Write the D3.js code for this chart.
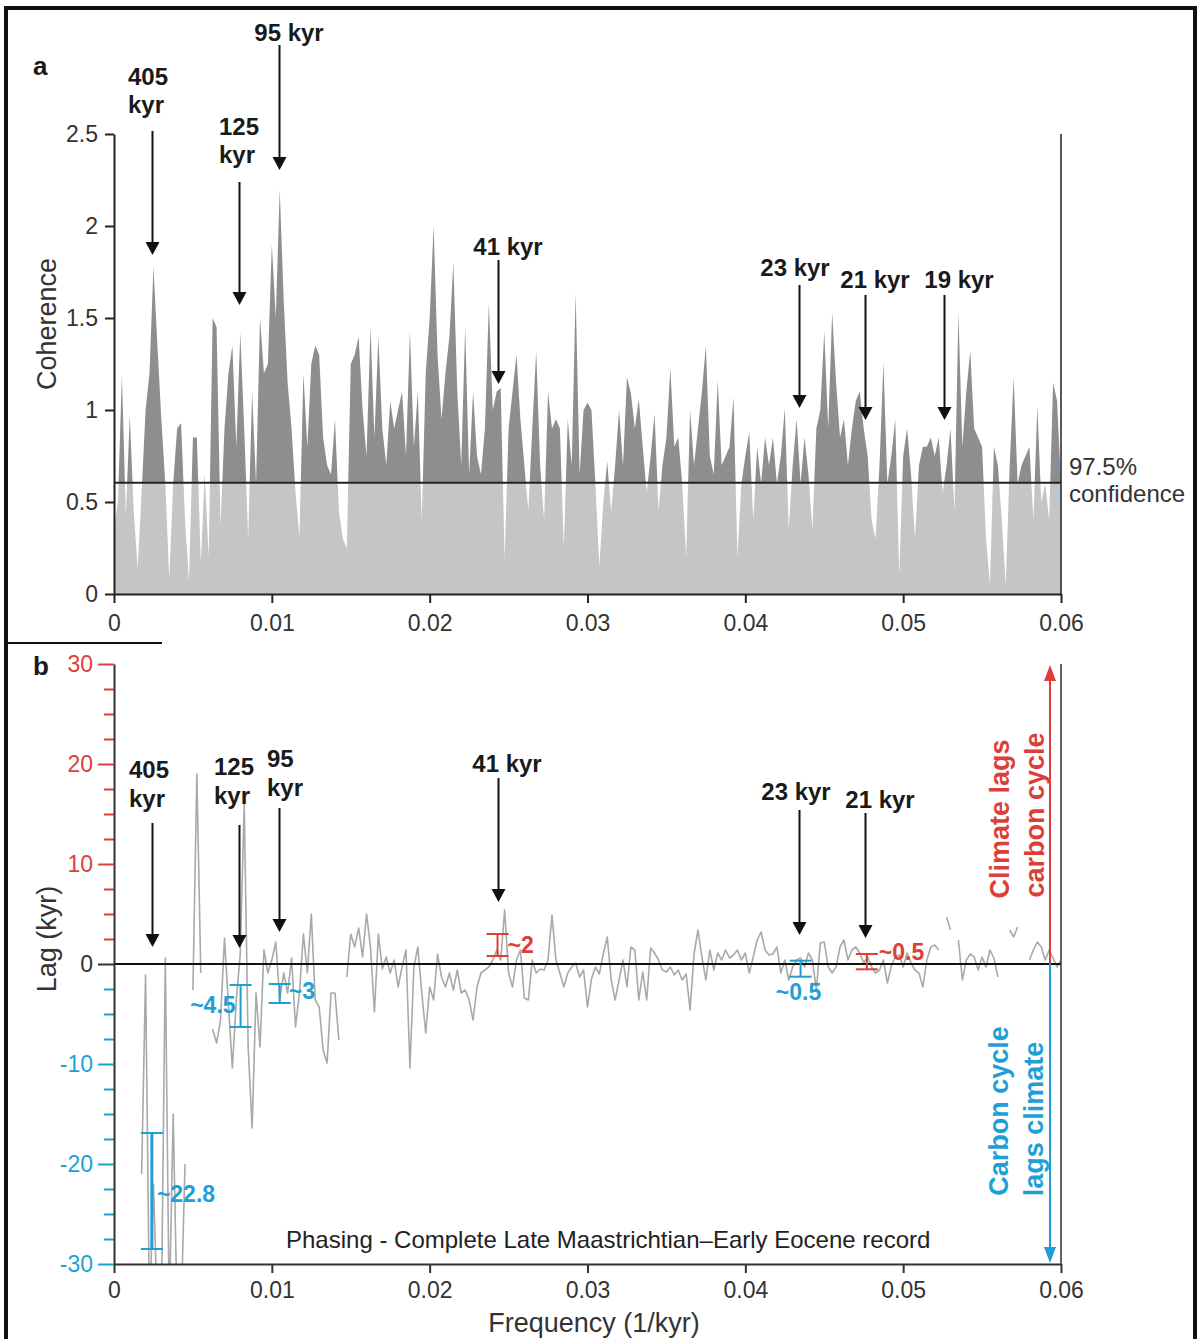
<!DOCTYPE html>
<html>
<head>
<meta charset="utf-8">
<script src="https://cdn.jsdelivr.net/npm/d3@7"></script>
<style>
  body { margin: 0; background: #fff; }
  text { font-family: "Liberation Sans", Arial, sans-serif; }
</style>
</head>
<body>
<svg id="chart" width="1198" height="1339"></svg>
<script>
// frequency grid step (1/kyr), series
var freqStep = 0.00025;

// panel a: coherence
var coherence = [
  0.35,0.5,1.19,0.43,0.97,0.45,0.14,0.55,1.0,1.2,
  1.78,1.35,0.95,0.6,0.08,0.6,0.9,0.93,0.4,0.07,
  0.85,0.85,0.17,0.65,0.2,1.5,1.45,0.37,0.9,1.2,
  1.35,0.8,1.42,0.9,0.3,1.1,0.6,1.5,1.2,1.25,
  1.9,1.5,2.2,1.6,1.15,0.9,0.55,0.31,1.2,0.8,
  1.25,1.35,1.3,0.85,0.7,0.65,0.95,0.45,0.3,0.25,
  1.25,1.3,1.4,1.0,0.75,1.45,0.85,1.4,0.9,0.7,
  1.05,0.9,1.0,1.1,0.75,1.43,0.8,1.1,0.4,1.2,
  1.5,2.0,1.3,0.95,1.2,1.4,1.8,1.1,0.7,1.45,
  0.65,1.1,0.75,0.65,0.9,1.58,1.0,1.1,1.12,0.19,
  0.9,1.1,1.3,0.95,0.7,0.45,0.9,1.32,0.7,0.4,
  1.1,0.9,0.95,0.9,0.25,0.95,0.7,1.64,0.65,1.0,
  1.04,1.0,0.6,0.15,0.5,0.72,0.45,0.7,1.0,0.7,
  1.18,1.09,0.9,1.06,0.8,0.55,0.75,0.98,0.45,0.7,
  0.85,1.23,0.8,0.85,0.6,0.2,1.0,0.7,0.9,1.1,
  1.35,0.75,0.65,1.16,0.7,0.75,0.8,1.07,0.2,0.6,
  0.75,0.88,0.4,0.8,0.6,0.85,0.7,0.85,0.6,0.75,
  1.01,0.35,0.7,0.95,0.6,0.85,0.65,0.35,0.9,1.0,
  1.43,0.9,1.53,1.15,0.85,0.95,0.7,0.9,1.05,1.1,
  0.9,0.75,0.4,0.3,0.7,1.26,0.6,0.75,0.95,0.1,
  0.75,0.9,0.65,0.3,0.7,0.8,0.8,0.85,0.75,0.85,
  0.55,0.7,0.9,0.45,1.53,0.8,1.1,1.32,0.9,0.85,
  0.8,0.3,0.05,0.8,0.7,0.4,0.05,0.7,1.18,0.6,
  0.7,0.75,0.8,0.4,1.02,0.5,0.6,0.4,1.15,1.05,0.6
];
var confidence = 0.605;

// panel b: lag (kyr), null = no estimate; values below -30 run off the axis
var lag = [
  null,null,null,null,null,null,null,-21,-1.1,-35,
  -22,-35,-35,0.6,-35,-15,-35,-35,-20,null,
  -2.6,19,-0.9,null,null,-6.5,-7.9,-5.6,2.6,-4,
  -10.4,-3.6,1.0,16,-8.3,-16.4,-2.9,-8.3,1.4,-0.9,
  0.4,2.2,-3.6,-0.9,-2.9,0.6,-6.3,-2.9,3,-0.9,
  5,-3.6,-4.3,-8.6,-9.9,-2.9,-2.9,-7.6,null,-1.3,
  3,1.7,3.6,0.7,5,1.7,-4.8,3,-0.5,0.7,
  -0.9,0.4,-2.3,-0.3,1.4,-10.4,-0.3,1.7,-2.9,-6.9,
  -2.3,-3.6,1.0,-1.3,-2.3,-0.9,-2.6,-0.6,-2.9,-2.6,
  -3.6,-5.6,-2.3,-0.9,-0.6,-0.3,0.4,1.4,0.4,5.4,
  -0.9,-2.3,0.4,1.4,-3.4,-3.6,0.4,-0.9,-0.5,-0.6,
  0.4,4.9,0.4,-0.9,-2.3,-0.9,-0.3,0.1,-1.3,-0.6,
  -4.3,-1.5,-0.3,-1.0,1.0,2.7,-1.6,-3.6,-1.6,0.4,
  -2.3,1.7,1.4,-3.6,-0.8,-3.6,1.6,1.1,0.4,-0.6,
  -0.8,-0.3,-1.1,-0.6,-1.6,-1.0,-4.6,1.0,3.4,0.7,
  -1.6,1.4,-0.6,1.1,0.4,1.4,0.6,0.9,1.4,0.4,
  1.1,-0.9,0.7,2.4,3.2,1.4,0.9,1.0,1.7,-0.9,
  0.4,-1.6,-0.3,0.4,0.6,-0.3,1.1,0.4,-2.6,2.1,
  2.2,-0.3,-0.9,-0.3,1.7,2.4,0.4,1.4,1.7,1.1,
  0.1,0.7,-0.3,-0.9,-0.6,0.4,-1.9,-0.2,0.7,0.9,
  -0.3,1.1,0.1,-0.6,-0.9,-2.3,0.4,1.7,1.9,1.4,
  null,4.7,3.4,null,2.4,-1.6,0.4,1.0,0.7,-0.6,
  0.7,-0.3,1.4,0.6,-1.3,null,null,3.4,2.7,3.7,
  null,null,0.4,1.4,2.2,1.7,0.4,1.4,0.6,-0.3,0.4
];

// lag ranges at the orbital bands
var errFreq   = [0.0024, 0.00802, 0.0105, 0.0243, 0.0435, 0.0477];
var errHigh   = [-16.9, -2.1, -2.0, 3.0, 0.33, 1.0];
var errLow    = [-28.5, -6.3, -3.9, 0.8, -1.27, -0.53];
var errLabels = ["~22.8", "~4.5", "~3", "~2", "~0.5", "~0.5"];

var freqTicks = [0, 0.01, 0.02, 0.03, 0.04, 0.05, 0.06];
var cohTicks = [0, 0.5, 1, 1.5, 2, 2.5];
var lagTicks = [-30, -20, -10, 0, 10, 20, 30];
var lagMinorTicks = [-27.5,-25,-22.5,-17.5,-15,-12.5,-7.5,-5,-2.5,2.5,5,7.5,12.5,15,17.5,22.5,25,27.5];

var periodsA = [405, 125, 95, 41, 23, 21, 19];
var periodsB = [405, 125, 95, 41, 23, 21];

var RED = "#dc3f37", BLUE = "#1e9fd6", INK = "#222";

var svg = d3.select("#chart");
var freqs = coherence.map(function(d, i) { return i * freqStep; });

var x = d3.scaleLinear().domain([0, 0.06]).range([114, 1061]);
var ya = d3.scaleLinear().domain([0, 2.5]).range([594, 134]);
var yb = d3.scaleLinear().domain([-30, 30]).range([1264, 664]);

// outer frame and the little divider
svg.append("rect").attr("x", 6).attr("y", 8).attr("width", 1189).attr("height", 1345)
  .attr("fill", "none").attr("stroke", "#111").attr("stroke-width", 4);
svg.append("line").attr("x1", 6).attr("x2", 162).attr("y1", 643).attr("y2", 643)
  .attr("stroke", "#111").attr("stroke-width", 2);

function fmt(d) { return String(d); }

function arrowDown(xp, y1, y2) {
  svg.append("line").attr("x1", xp).attr("x2", xp).attr("y1", y1).attr("y2", y2 - 10)
    .attr("stroke", "#111").attr("stroke-width", 2);
  svg.append("path").attr("d", "M" + (xp - 7) + "," + (y2 - 13) + "L" + (xp + 7) + "," + (y2 - 13) + "L" + xp + "," + y2 + "Z")
    .attr("fill", "#111");
}

function boldText(str, tx, ty, anchor, color, size) {
  return svg.append("text").attr("x", tx).attr("y", ty).attr("text-anchor", anchor)
    .attr("font-size", size || 24).attr("font-weight", "bold").attr("fill", color || "#1a1a1a").text(str);
}

// ---------- panel a ----------
var defs = svg.append("defs");
defs.append("clipPath").attr("id", "above").append("rect")
  .attr("x", x(0)).attr("y", 100).attr("width", x(0.06) - x(0)).attr("height", ya(confidence) - 100);
defs.append("clipPath").attr("id", "below").append("rect")
  .attr("x", x(0)).attr("y", ya(confidence)).attr("width", x(0.06) - x(0)).attr("height", ya(0) - ya(confidence));
defs.append("clipPath").attr("id", "plotb").append("rect")
  .attr("x", x(0)).attr("y", yb(30)).attr("width", x(0.06) - x(0)).attr("height", yb(-30) - yb(30));

var area = d3.area()
  .x(function(d, i) { return x(freqs[i]); })
  .y0(ya(0))
  .y1(function(d) { return ya(d); });

svg.append("path").datum(coherence).attr("d", area).attr("fill", "#8e8e90").attr("clip-path", "url(#above)");
svg.append("path").datum(coherence).attr("d", area).attr("fill", "#c5c5c7").attr("clip-path", "url(#below)");

svg.append("line").attr("x1", x(0)).attr("x2", x(0.06)).attr("y1", ya(confidence)).attr("y2", ya(confidence))
  .attr("stroke", INK).attr("stroke-width", 2);
svg.append("line").attr("x1", x(0.06)).attr("x2", x(0.06)).attr("y1", ya(2.5)).attr("y2", ya(0))
  .attr("stroke", INK).attr("stroke-width", 1.5);

var axA = svg.append("g").attr("transform", "translate(" + x(0) + ",0)")
  .call(d3.axisLeft(ya).tickValues(cohTicks).tickSize(9).tickSizeOuter(0).tickPadding(7).tickFormat(fmt));
var axAx = svg.append("g").attr("transform", "translate(0," + ya(0) + ")")
  .call(d3.axisBottom(x).tickValues(freqTicks).tickSize(9).tickSizeOuter(0).tickPadding(12).tickFormat(fmt));
[axA, axAx].forEach(function(g) {
  g.select(".domain").attr("stroke", INK).attr("stroke-width", 2);
  g.selectAll(".tick line").attr("stroke", INK).attr("stroke-width", 2);
  g.selectAll(".tick text").attr("font-size", 23).attr("fill", "#333")
    .attr("font-family", '"Liberation Sans", Arial, sans-serif');
});

svg.append("text").attr("transform", "translate(56,324) rotate(-90)").attr("text-anchor", "middle")
  .attr("font-size", 27).attr("fill", "#333").text("Coherence");
svg.append("text").attr("x", 1069).attr("y", 475).attr("font-size", 24).attr("fill", "#333").text("97.5%");
svg.append("text").attr("x", 1069).attr("y", 502).attr("font-size", 24).attr("fill", "#333").text("confidence");
boldText("a", 33, 75, "start", "#1a1a1a", 26);

// label layout for panel a, in the order of periodsA
var layoutA = [
  { lines: ["405", "kyr"], tx: 128, anchor: "start", base: 85, tail: 131, tip: 255 },
  { lines: ["125", "kyr"], tx: 219, anchor: "start", base: 135, tail: 182, tip: 305 },
  { lines: ["95 kyr"], tx: 289, anchor: "middle", base: 41, tail: 45, tip: 170 },
  { lines: ["41 kyr"], tx: 508, anchor: "middle", base: 255, tail: 260, tip: 384 },
  { lines: ["23 kyr"], tx: 795, anchor: "middle", base: 276, tail: 285, tip: 408 },
  { lines: ["21 kyr"], tx: 875, anchor: "middle", base: 288, tail: 295, tip: 420 },
  { lines: ["19 kyr"], tx: 959, anchor: "middle", base: 288, tail: 295, tip: 420 }
];
periodsA.forEach(function(p, i) {
  var L = layoutA[i];
  L.lines.forEach(function(s, j) { boldText(s, L.tx, L.base + j * 28, L.anchor); });
  arrowDown(Math.round(x(1 / p)) - 0.5, L.tail, L.tip);
});

// ---------- panel b ----------
var lagLine = d3.line()
  .defined(function(d) { return d !== null; })
  .x(function(d, i) { return x(freqs[i]); })
  .y(function(d) { return yb(d); });

svg.append("path").datum(lag).attr("d", lagLine).attr("fill", "none")
  .attr("stroke", "#a9a9a9").attr("stroke-width", 1.6).attr("stroke-linejoin", "round")
  .attr("clip-path", "url(#plotb)");

svg.append("line").attr("x1", x(0)).attr("x2", x(0.06)).attr("y1", yb(0)).attr("y2", yb(0))
  .attr("stroke", "#111").attr("stroke-width", 2);
svg.append("line").attr("x1", x(0.06)).attr("x2", x(0.06)).attr("y1", yb(30)).attr("y2", yb(-30))
  .attr("stroke", "#333").attr("stroke-width", 1.5);

var gMinor = svg.append("g").attr("transform", "translate(" + x(0) + ",0)")
  .call(d3.axisLeft(yb).tickValues(lagMinorTicks).tickSize(10).tickFormat(""));
gMinor.select(".domain").remove();
gMinor.selectAll(".tick line").attr("stroke", function(d) { return d > 0 ? RED : BLUE; }).attr("stroke-width", 2);

var gMajor = svg.append("g").attr("transform", "translate(" + x(0) + ",0)")
  .call(d3.axisLeft(yb).tickValues(lagTicks).tickSize(16).tickSizeOuter(0).tickPadding(5).tickFormat(fmt));
gMajor.select(".domain").attr("stroke", "#333").attr("stroke-width", 2);
gMajor.selectAll(".tick line").attr("stroke-width", 2)
  .attr("stroke", function(d) { return d > 0 ? RED : d < 0 ? BLUE : "#333"; });
gMajor.selectAll(".tick text").attr("font-size", 23)
  .attr("font-family", '"Liberation Sans", Arial, sans-serif')
  .attr("fill", function(d) { return d > 0 ? RED : d < 0 ? BLUE : "#333"; });

var axBx = svg.append("g").attr("transform", "translate(0," + yb(-30) + ")")
  .call(d3.axisBottom(x).tickValues(freqTicks).tickSize(9).tickSizeOuter(0).tickPadding(9).tickFormat(fmt));
axBx.select(".domain").attr("stroke", "#333").attr("stroke-width", 2);
axBx.selectAll(".tick line").attr("stroke", "#333").attr("stroke-width", 2);
axBx.selectAll(".tick text").attr("font-size", 23).attr("fill", "#333")
  .attr("font-family", '"Liberation Sans", Arial, sans-serif');

svg.append("text").attr("transform", "translate(56,939) rotate(-90)").attr("text-anchor", "middle")
  .attr("font-size", 27).attr("fill", "#333").text("Lag (kyr)");
svg.append("text").attr("x", 594).attr("y", 1332).attr("text-anchor", "middle")
  .attr("font-size", 27).attr("fill", "#333").text("Frequency (1/kyr)");
svg.append("text").attr("x", 286).attr("y", 1248).attr("font-size", 24).attr("fill", "#222")
  .text("Phasing - Complete Late Maastrichtian\u2013Early Eocene record");
boldText("b", 33, 675, "start", "#1a1a1a", 26);

// error bars; label placement is layout only
var labelPlace = ["right", "left", "right", "right", "below", "right"];
var labelDx = [5, -5, 9, 10, 0, 12];
var labelDy = [11, 7, 5, 8, 23, -2];
errFreq.forEach(function(f, i) {
  var col = (errHigh[i] + errLow[i]) / 2 > 0 ? RED : BLUE;
  var xp = x(f), t = yb(errHigh[i]), b = yb(errLow[i]);
  var g = svg.append("g").attr("stroke", col).attr("stroke-width", 2);
  g.append("line").attr("x1", xp).attr("x2", xp).attr("y1", t).attr("y2", b).attr("stroke-width", i === 0 ? 3 : 2);
  g.append("line").attr("x1", xp - 11).attr("x2", xp + 11).attr("y1", t).attr("y2", t);
  g.append("line").attr("x1", xp - 11).attr("x2", xp + 11).attr("y1", b).attr("y2", b);
  var mid = (t + b) / 2, side = labelPlace[i];
  if (side === "right") boldText(errLabels[i], xp + labelDx[i], mid + labelDy[i], "start", col, 23);
  else if (side === "left") boldText(errLabels[i], xp + labelDx[i], mid + labelDy[i], "end", col, 23);
  else boldText(errLabels[i], xp - 2, b + labelDy[i], "middle", col, 23);
});

// label layout for panel b, in the order of periodsB
var layoutB = [
  { lines: ["405", "kyr"], tx: 129, anchor: "start", base: 778, tail: 823, tip: 947 },
  { lines: ["125", "kyr"], tx: 214, anchor: "start", base: 775, tail: 825, tip: 948 },
  { lines: ["95", "kyr"], tx: 267, anchor: "start", base: 767, tail: 808, tip: 932 },
  { lines: ["41 kyr"], tx: 507, anchor: "middle", base: 772, tail: 778, tip: 902 },
  { lines: ["23 kyr"], tx: 796, anchor: "middle", base: 800, tail: 810, tip: 935 },
  { lines: ["21 kyr"], tx: 880, anchor: "middle", base: 808, tail: 813, tip: 938 }
];
periodsB.forEach(function(p, i) {
  var L = layoutB[i];
  L.lines.forEach(function(s, j) { boldText(s, L.tx, L.base + j * 29, L.anchor); });
  arrowDown(Math.round(x(1 / p)) - 0.5, L.tail, L.tip);
});

// direction arrows on the right
var ax = 1050;
svg.append("line").attr("x1", ax).attr("x2", ax).attr("y1", yb(0)).attr("y2", yb(30) + 14)
  .attr("stroke", RED).attr("stroke-width", 2);
svg.append("path").attr("d", "M" + (ax - 6) + "," + (yb(30) + 17) + "L" + (ax + 6) + "," + (yb(30) + 17) + "L" + ax + "," + (yb(30) + 1) + "Z")
  .attr("fill", RED);
svg.append("line").attr("x1", ax).attr("x2", ax).attr("y1", yb(0)).attr("y2", yb(-30) - 14)
  .attr("stroke", BLUE).attr("stroke-width", 2);
svg.append("path").attr("d", "M" + (ax - 6) + "," + (yb(-30) - 17) + "L" + (ax + 6) + "," + (yb(-30) - 17) + "L" + ax + "," + (yb(-30) - 1) + "Z")
  .attr("fill", BLUE);

function rotated(str, tx, ty, col) {
  svg.append("text").attr("transform", "translate(" + tx + "," + ty + ") rotate(-90)")
    .attr("text-anchor", "middle").attr("font-size", 27).attr("font-weight", "bold")
    .attr("fill", col).text(str);
}
rotated("Climate lags", 1009, 819, RED);
rotated("carbon cycle", 1044, 815, RED);
rotated("Carbon cycle", 1008, 1111, BLUE);
rotated("lags climate", 1043, 1119, BLUE);
</script>
</body>
</html>
